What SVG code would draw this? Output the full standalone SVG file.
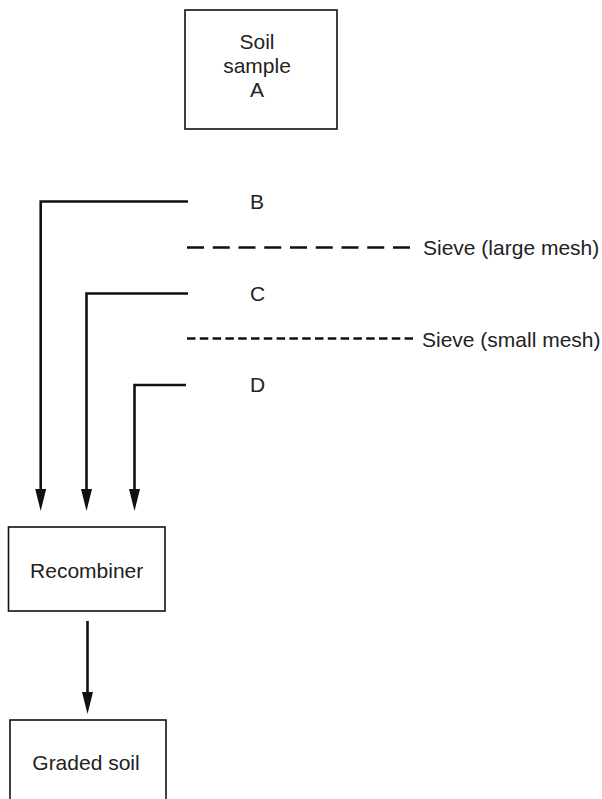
<svg xmlns="http://www.w3.org/2000/svg" width="602" height="799" viewBox="0 0 602 799">
  <style>
    .box { fill: #ffffff; stroke: #111111; stroke-width: 1.6; }
    .txt { font-family: "Liberation Sans", Arial, sans-serif; font-size: 21px; fill: #222222; }
    .mid { text-anchor: middle; }
    .conn { fill: none; stroke: #111111; stroke-width: 2.6; }
    .sieve-l { fill: none; stroke: #111111; stroke-width: 2.4; stroke-dasharray: 17 8.75; }
    .sieve-s { fill: none; stroke: #111111; stroke-width: 2.4; stroke-dasharray: 8.5 4.3; }
  </style>
  <defs>
    <marker id="arrow" markerUnits="userSpaceOnUse" markerWidth="24" markerHeight="14" viewBox="0 -7 24 14" refX="0" refY="0" orient="auto">
      <path d="M0,-5.5 L22,0 L0,5.5 Z" fill="#111111"/>
    </marker>
  </defs>
  <rect width="602" height="799" fill="#ffffff"/>

  <g id="soil-sample">
    <rect class="box" x="185" y="10" width="152" height="119"/>
    <text class="txt mid" x="257" y="49">Soil</text>
    <text class="txt mid" x="257" y="73">sample</text>
    <text class="txt mid" x="257" y="97">A</text>
  </g>

  <g id="fraction-B">
    <text class="txt" x="250" y="209">B</text>
  </g>
  <g id="sieve-large">
    <line class="sieve-l" x1="187" y1="247.5" x2="410" y2="247.5"/>
    <text class="txt" x="423" y="255">Sieve (large mesh)</text>
  </g>
  <g id="fraction-C">
    <text class="txt" x="250" y="301">C</text>
  </g>
  <g id="sieve-small">
    <line class="sieve-s" x1="187" y1="338.5" x2="413" y2="338.5"/>
    <text class="txt" x="422" y="346.5">Sieve (small mesh)</text>
  </g>
  <g id="fraction-D">
    <text class="txt" x="250" y="392">D</text>
  </g>

  <g id="recombiner">
    <rect class="box" x="8.5" y="527" width="156.5" height="84"/>
    <text class="txt mid" x="86.7" y="578">Recombiner</text>
  </g>

  <g id="graded-soil">
    <rect class="box" x="10" y="720" width="156" height="100"/>
    <text class="txt mid" x="86" y="770">Graded soil</text>
  </g>

  <g id="connectors">
    <path class="conn" d="M188,201.5 H40.7 V489" marker-end="url(#arrow)"/>
    <path class="conn" d="M188,293.5 H86.5 V489" marker-end="url(#arrow)"/>
    <path class="conn" d="M186,385 H134.5 V489" marker-end="url(#arrow)"/>
    <path class="conn" d="M87.5,621 V692" marker-end="url(#arrow)"/>
  </g>
</svg>
